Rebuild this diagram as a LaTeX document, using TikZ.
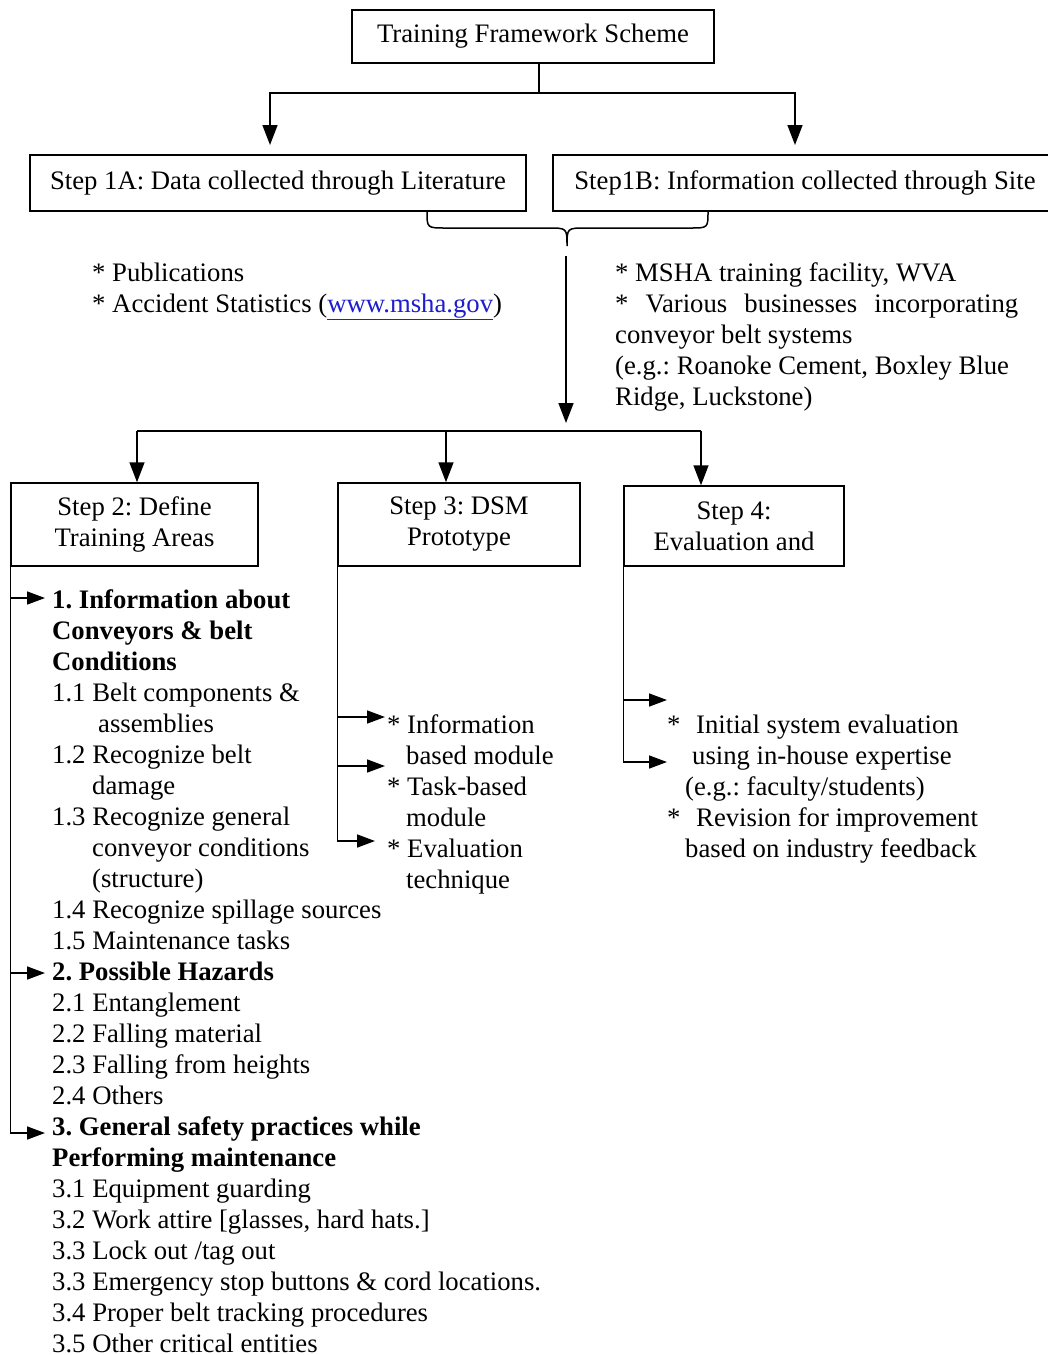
\documentclass[tikz,border=0pt]{standalone}
\usepackage{fontspec}
\setmainfont{Liberation Serif}
\usetikzlibrary{arrows.meta}
\definecolor{linkblue}{RGB}{30,30,205}
\frenchspacing
\newcommand\fs{\fontsize{26.7}{31}\selectfont}
\newcommand\bul{{*}}
\tikzset{
  box/.style={draw, line width=1.5pt, inner sep=0pt, align=center, font=\fs},
  wire/.style={line width=1.5pt},
  arr/.style={wire, -{Triangle[length=20pt,width=15pt]}},
  sarr/.style={wire, -{Triangle[length=18pt,width=13pt]}},
  txt/.style={anchor=base west, inner sep=0pt, font=\fs},
}
\begin{document}
\begin{tikzpicture}[x=1pt,y=-1pt]
\fill[white] (0,0) rectangle (1048,1355);
\useasboundingbox (0,0) rectangle (1048,1355);

% boxes
\node[box, minimum width=362pt, minimum height=53pt] (top) at (533,36.5) {Training Framework Scheme};
\node[box, minimum width=496pt, minimum height=56pt] (s1a) at (278,183) {Step 1A: Data collected through Literature};
\node[box, minimum width=504pt, minimum height=56pt] (s1b) at (805,183) {Step1B: Information collected through Site};
\node[box, minimum width=247pt, minimum height=83pt] (s2) at (134.5,524.5) {Step 2: Define\\Training Areas};
\node[box, minimum width=242pt, minimum height=83pt] (s3) at (459,524.5) {Step 3: DSM\\Prototype};
\node[box, minimum width=220pt, minimum height=80pt] (s4) at (734,526) {Step 4:\\Evaluation and};

% split below the title
\coordinate (split) at (539,93);
\coordinate (t1a) at (270,145);
\coordinate (t1b) at (795,145);
\draw[wire] (top.south -| split) -- (split);
\draw[arr] (split) -| (t1a);
\draw[arr] (split) -| (t1b);

% brace joining steps 1A and 1B
\draw[wire] (s1a.south -| 427,0) .. controls (427,228) .. (446,228) -- (548,228)
  .. controls (567,228) .. (567,246) .. controls (567,228) .. (586,228) -- (690,228)
  .. controls (708,228) .. (s1b.south -| 708,0);

% down to the three steps
\coordinate (bstart) at (566,256);
\coordinate (bend) at (566,423);
\draw[arr] (bstart) -- (bend);
\coordinate (b2) at (137,431);
\coordinate (b3) at (446,431);
\coordinate (b4) at (701,431);
\draw[wire] (b2) -- (b4);
\draw[arr] (b2) -- (b2 |- s2.north);
\draw[arr] (b3) -- (b3 |- s3.north);
\draw[arr] (b4) -- (b4 |- s4.north);

% step 1 notes
\node[txt] (lit) at (92,281) {\begin{minipage}[t]{420pt}\fs
\bul{} Publications\\
\bul{} Accident Statistics (\textcolor{linkblue}{\underline{www.msha.gov}})
\end{minipage}};
\node[txt] (site) at (615,281) {\begin{minipage}[t]{430pt}\fs
\bul{} MSHA training facility, WVA\\
\makebox[403pt][s]{\bul{} Various businesses incorporating}\\
conveyor belt systems\\
(e.g.: Roanoke Cement, Boxley Blue\\
Ridge, Luckstone)
\end{minipage}};

% step 2 list
\node[txt] (list) at (52,608) {\begin{minipage}[t]{600pt}\fs
\textbf{1. Information about}\\
\textbf{Conveyors \& belt}\\
\textbf{Conditions}\\
1.1 Belt components \&\\
\hspace*{46pt}assemblies\\
1.2 Recognize belt\\
\hspace*{40pt}damage\\
1.3 Recognize general\\
\hspace*{40pt}conveyor conditions\\
\hspace*{40pt}(structure)\\
1.4 Recognize spillage sources\\
1.5 Maintenance tasks\\
\textbf{2. Possible Hazards}\\
2.1 Entanglement\\
2.2 Falling material\\
2.3 Falling from heights\\
2.4 Others\\
\textbf{3. General safety practices while}\\
\textbf{Performing maintenance}\\
3.1 Equipment guarding\\
3.2 Work attire [glasses, hard hats.]\\
3.3 Lock out /tag out\\
3.3 Emergency stop buttons \& cord locations.\\
3.4 Proper belt tracking procedures\\
3.5 Other critical entities
\end{minipage}};

% step 3 list
\node[txt] (dsm) at (387,733) {\begin{minipage}[t]{240pt}\fs
\bul{} Information\\
\hspace*{19pt}based module\\
\bul{} Task-based\\
\hspace*{19pt}module\\
\bul{} Evaluation\\
\hspace*{19pt}technique
\end{minipage}};

% step 4 list
\node[txt] (eval) at (667,733) {\begin{minipage}[t]{380pt}\fs
\makebox[29pt][l]{*}Initial system evaluation\\
\hspace*{25pt}using in-house expertise\\
\hspace*{18pt}(e.g.: faculty/students)\\
\makebox[29pt][l]{*}Revision for improvement\\
\hspace*{18pt}based on industry feedback
\end{minipage}};

% step 2 branches
\coordinate (a21) at (45,598);
\coordinate (a22) at (45,973);
\coordinate (a23) at (45,1133);
\draw[sarr] (a21 -| s2.west) -- (a21);
\draw[sarr] (a22 -| s2.west) -- (a22);
\draw[sarr] (s2.south west) |- (a23);

% step 3 branches
\coordinate (a31) at (385,717);
\coordinate (a32) at (385,766);
\coordinate (a33) at (375,841);
\draw[sarr] (a31 -| s3.west) -- (a31);
\draw[sarr] (a32 -| s3.west) -- (a32);
\draw[sarr] (s3.south west) |- (a33);

% step 4 branches
\coordinate (a41) at (667,700);
\coordinate (a42) at (667,762);
\draw[sarr] (a41 -| s4.west) -- (a41);
\draw[sarr] (s4.south west) |- (a42);
\end{tikzpicture}
\end{document}
